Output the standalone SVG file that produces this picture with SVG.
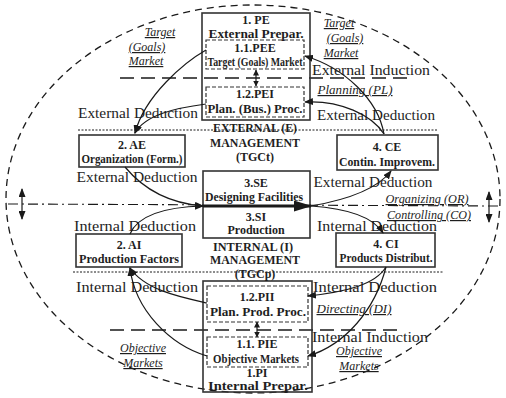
<svg xmlns="http://www.w3.org/2000/svg" width="506" height="398" viewBox="0 0 506 398">
<defs>
<marker id="ah" markerUnits="userSpaceOnUse" markerWidth="9" markerHeight="7" refX="8" refY="3.5" orient="auto-start-reverse">
<path d="M0,0 L9,3.5 L0,7 z" fill="#1a1a1a"/>
</marker>
<marker id="ahs" markerUnits="userSpaceOnUse" markerWidth="6" markerHeight="6" refX="5.5" refY="3" orient="auto-start-reverse">
<path d="M0,0 L6,3 L0,6 z" fill="#1a1a1a"/>
</marker>
<marker id="big" markerUnits="userSpaceOnUse" markerWidth="18" markerHeight="11" refX="17" refY="5.5" orient="auto">
<path d="M0,0 L18,5.5 L0,11 z" fill="#1a1a1a"/>
</marker>
</defs>
<style>
text{font-family:"Liberation Serif","DejaVu Serif",serif;fill:#1e1e1e}
.b{font-weight:bold;font-size:12px;text-anchor:middle}
.r{font-size:14px;text-anchor:middle}
.i{font-style:italic;font-size:12px;text-anchor:middle;text-decoration:underline}
.box{fill:#fff;stroke:#333;stroke-width:1.6}
.obox{fill:none;stroke:#333;stroke-width:1.6}
.dbox{fill:none;stroke:#333;stroke-width:1.2;stroke-dasharray:4 2}
.con{fill:none;stroke:#1a1a1a;stroke-width:1.2}
.ell{fill:none;stroke:#1a1a1a;stroke-width:1.3;stroke-dasharray:7 5}
.ldash{stroke:#1a1a1a;stroke-width:1.4;stroke-dasharray:14 7}
.dot{stroke:#1a1a1a;stroke-width:1;stroke-dasharray:2 1.5}
.dd{stroke:#1a1a1a;stroke-width:1.1;stroke-dasharray:10 4 2 4}
</style>
<rect width="506" height="398" fill="#fff"/>

<g id="frame">
<ellipse class="ell" cx="253" cy="199" rx="247" ry="194"/>
<line class="dd" x1="8" y1="204" x2="500" y2="206"/>
<line class="ldash" x1="120" y1="78" x2="408" y2="78"/>
<line class="ldash" x1="110" y1="330" x2="402" y2="330"/>
<line class="dot" x1="78" y1="130" x2="437" y2="130"/>
<line class="dot" x1="73" y1="272" x2="443" y2="272"/>
<line class="con" x1="22" y1="189" x2="22" y2="219" marker-start="url(#ah)" marker-end="url(#ah)"/>
<line class="con" x1="489" y1="192" x2="489" y2="222" marker-start="url(#ah)" marker-end="url(#ah)"/>
</g>

<g id="pe">
<rect class="obox" x="202" y="13" width="108" height="107"/>
<text class="b" x="256" y="24">1. PE</text>
<text class="b" x="256" y="38" textLength="95" lengthAdjust="spacingAndGlyphs">External Prepar.</text>
<rect class="dbox" x="206" y="40" width="98" height="29"/>
<text class="b" x="255" y="52">1.1.PEE</text>
<text class="b" x="255" y="66" font-size="11" textLength="95" lengthAdjust="spacingAndGlyphs">Target (Goals) Market</text>
<rect class="dbox" x="206" y="87" width="98" height="30"/>
<text class="b" x="255" y="98">1.2.PEI</text>
<text class="b" x="255" y="113" textLength="95" lengthAdjust="spacingAndGlyphs">Plan. (Bus.) Proc.</text>
</g>

<g id="ae">
<rect class="box" x="79" y="135" width="106" height="32"/>
<text class="b" x="132" y="149">2. AE</text>
<text class="b" x="132" y="163" textLength="101" lengthAdjust="spacingAndGlyphs">Organization (Form.)</text>
</g>

<g id="ce">
<rect class="box" x="337" y="135" width="101" height="35"/>
<text class="b" x="387" y="151">4. CE</text>
<text class="b" x="387" y="166" textLength="96" lengthAdjust="spacingAndGlyphs">Contin. Improvem.</text>
</g>

<g id="s">
<rect class="box" x="203" y="171" width="107" height="67"/>
<text class="b" x="256" y="187">3.SE</text>
<text class="b" x="254" y="201" textLength="98" lengthAdjust="spacingAndGlyphs">Designing Facilities</text>
<text class="b" x="256" y="221">3.SI</text>
<text class="b" x="256" y="234" font-size="13">Production</text>
</g>

<g id="ai">
<rect class="box" x="76" y="234" width="106" height="33"/>
<text class="b" x="129" y="249">2. AI</text>
<text class="b" x="129" y="263" textLength="100" lengthAdjust="spacingAndGlyphs">Production Factors</text>
</g>

<g id="ci">
<rect class="box" x="336" y="233" width="99" height="34"/>
<text class="b" x="386" y="248">4. CI</text>
<text class="b" x="386" y="262" textLength="93" lengthAdjust="spacingAndGlyphs">Products Distribut.</text>
</g>

<g id="pi">
<rect class="obox" x="203" y="281" width="109" height="111"/>
<rect class="dbox" x="207" y="286" width="101" height="36"/>
<text class="b" x="257" y="301" font-size="11.5">1.2.PII</text>
<text class="b" x="258" y="316" font-size="11.5" textLength="96" lengthAdjust="spacingAndGlyphs">Plan. Prod. Proc.</text>
<rect class="dbox" x="207" y="337" width="101" height="30"/>
<text class="b" x="257" y="348" font-size="11">1.1. PIE</text>
<text class="b" x="256" y="363" font-size="11" textLength="86" lengthAdjust="spacingAndGlyphs">Objective Markets</text>
<text class="b" x="257" y="377" font-size="12">1.PI</text>
<text class="b" x="258" y="390" font-size="12" textLength="100" lengthAdjust="spacingAndGlyphs">Internal Prepar.</text>
</g>

<g id="labels">
<text class="b" x="255" y="132" font-size="11" textLength="84" lengthAdjust="spacingAndGlyphs">EXTERNAL (E)</text>
<text class="b" x="255" y="147" font-size="11" textLength="90" lengthAdjust="spacingAndGlyphs">MANAGEMENT</text>
<text class="b" x="255" y="161" font-size="11">(TGCt)</text>
<text class="b" x="253" y="251" font-size="11" textLength="80" lengthAdjust="spacingAndGlyphs">INTERNAL (I)</text>
<text class="b" x="255" y="264" font-size="11" textLength="90" lengthAdjust="spacingAndGlyphs">MANAGEMENT</text>
<text class="b" x="255" y="278" font-size="10">(TGCp)</text>

<text class="r" x="138" y="118" textLength="120" lengthAdjust="spacingAndGlyphs">External Deduction</text>
<text class="r" x="137" y="182" textLength="121" lengthAdjust="spacingAndGlyphs">External Deduction</text>
<text class="r" x="135" y="231" textLength="122" lengthAdjust="spacingAndGlyphs">Internal Deduction</text>
<text class="r" x="137" y="292" textLength="122" lengthAdjust="spacingAndGlyphs">Internal Deduction</text>
<text class="r" x="371" y="75" textLength="118" lengthAdjust="spacingAndGlyphs">External Induction</text>
<text class="r" x="376" y="120" textLength="118" lengthAdjust="spacingAndGlyphs">External Deduction</text>
<text class="r" x="373" y="187" textLength="119" lengthAdjust="spacingAndGlyphs">External Deduction</text>
<text class="r" x="377" y="231" textLength="120" lengthAdjust="spacingAndGlyphs">Internal Deduction</text>
<text class="r" x="375" y="292" textLength="124" lengthAdjust="spacingAndGlyphs">Internal Deduction</text>
<text class="r" x="370" y="342" textLength="116" lengthAdjust="spacingAndGlyphs">Internal Induction</text>

<text class="i" x="160" y="36">Target</text>
<text class="i" x="147" y="51">(Goals)</text>
<text class="i" x="146" y="65">Market</text>
<text class="i" x="339" y="27">Target</text>
<text class="i" x="345" y="42">(Goals)</text>
<text class="i" x="341" y="57">Market</text>
<text class="i" x="355" y="94" textLength="75" lengthAdjust="spacingAndGlyphs">Planning (PL)</text>
<text class="i" x="427" y="203" textLength="83" lengthAdjust="spacingAndGlyphs">Organizing (OR)</text>
<text class="i" x="429" y="219" textLength="84" lengthAdjust="spacingAndGlyphs">Controlling (CO)</text>
<text class="i" x="354" y="313" textLength="75" lengthAdjust="spacingAndGlyphs">Directing (DI)</text>
<text class="i" x="143" y="352">Objective</text>
<text class="i" x="143" y="367">Markets</text>
<text class="i" x="359" y="355">Objective</text>
<text class="i" x="359" y="370">Markets</text>
</g>

<g id="connectors">
<line class="con" x1="256" y1="70" x2="256" y2="86" marker-start="url(#ahs)" marker-end="url(#ahs)"/>
<line class="con" x1="257" y1="322" x2="257" y2="337" marker-start="url(#ahs)" marker-end="url(#ahs)"/>
<path class="con" d="M206,50 C185,62 145,95 135,133" marker-end="url(#ah)"/>
<path class="con" d="M206,104 C175,108 145,115 135,133" marker-end="url(#ah)"/>
<path class="con" d="M384,134 C378,100 345,68 305,56" marker-end="url(#ah)"/>
<path class="con" d="M384,134 C372,115 340,100 305,102" marker-end="url(#ah)"/>
<path class="con" d="M125,167 C140,185 165,203 203,206" marker-end="url(#ah)"/>
<path class="con" d="M130,234 C138,215 165,207 203,206" marker-end="url(#ah)"/>
<line x1="203" y1="206" x2="311" y2="206" stroke="#1a1a1a" stroke-width="3" marker-end="url(#big)"/>
<path class="con" d="M311,206 C340,201 375,192 391,171" marker-end="url(#ah)"/>
<path class="con" d="M311,206 C340,208 372,215 383,233" marker-end="url(#ah)"/>
<path class="con" d="M207,303 C180,297 145,290 130,268" marker-end="url(#ah)"/>
<path class="con" d="M207,356 C170,345 135,310 130,268" marker-end="url(#ah)"/>
<path class="con" d="M386,267 C375,285 345,292 308,296" marker-end="url(#ah)"/>
<path class="con" d="M386,267 C375,310 345,345 308,356" marker-end="url(#ah)"/>
</g>
</svg>
